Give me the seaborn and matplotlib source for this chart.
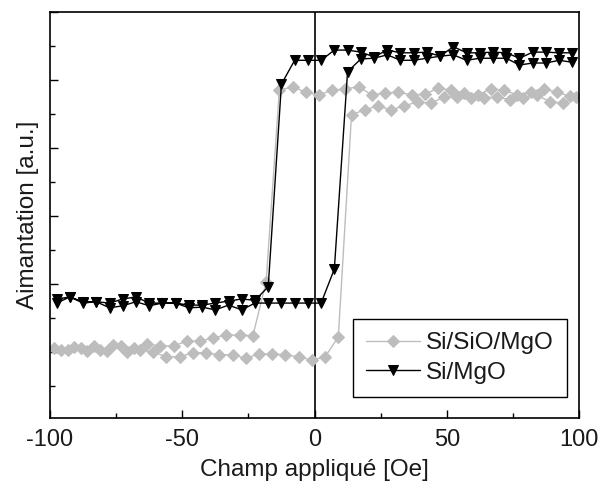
import numpy as np
import pandas as pd
import matplotlib
matplotlib.use("Agg")
import matplotlib.pyplot as plt
import seaborn as sns
from matplotlib.ticker import MultipleLocator, NullFormatter

# ---------------- data ----------------
# Si/MgO : descending branch (+ -> -) then ascending branch (- -> +)
simgo_field_desc = [97.5, 92.5, 87.5, 82.5, 77.5, 72.5, 67.5, 62.5, 57.5, 52.5,
                    47.5, 42.5, 37.5, 32.5, 27.5, 22.5, 17.5, 12.5, 7.5, 2.5,
                    -2.5, -7.5, -12.5, -17.5, -22.5, -27.5, -32.5, -37.5, -42.5, -47.5,
                    -52.5, -57.5, -62.5, -67.5, -72.5, -77.5, -82.5, -87.5, -92.5, -97.5]
simgo_mag_desc = [44.0, 44.0, 44.1, 44.1, 43.2, 44.0, 44.1, 44.0, 44.0, 44.9,
                  43.5, 44.1, 44.0, 44.0, 44.4, 43.4, 44.1, 44.4, 44.4, 42.9,
                  42.9, 42.9, 39.4, 9.6, 7.6, 7.8, 7.5, 7.2, 6.9, 6.9,
                  7.2, 7.2, 7.2, 8.1, 7.8, 7.2, 7.4, 7.4, 8.1, 7.8]
simgo_field_asc = [-97.5, -92.5, -87.5, -82.5, -77.5, -72.5, -67.5, -62.5, -57.5, -52.5,
                   -47.5, -42.5, -37.5, -32.5, -27.5, -22.5, -17.5, -12.5, -7.5, -2.5,
                   2.5, 7.5, 12.5, 17.5, 22.5, 27.5, 32.5, 37.5, 42.5, 47.5,
                   52.5, 57.5, 62.5, 67.5, 72.5, 77.5, 82.5, 87.5, 92.5, 97.5]
simgo_mag_asc = [7.2, 8.1, 7.2, 7.4, 6.5, 6.8, 7.4, 6.8, 7.2, 7.2,
                 6.5, 6.6, 6.2, 6.9, 6.2, 7.2, 7.2, 7.2, 7.2, 7.2,
                 7.2, 12.2, 41.2, 43.1, 43.2, 43.7, 42.9, 42.9, 43.2, 43.5,
                 43.7, 42.9, 43.2, 43.2, 43.2, 42.2, 42.5, 42.5, 42.9, 42.6]

# Si/SiO/MgO
sisio_field_desc = [96.7, 91.7, 86.7, 81.7, 76.7, 71.7, 66.7, 61.7, 56.7, 51.7,
                    46.7, 41.7, 36.7, 31.7, 26.7, 21.7, 16.7, 11.7, 6.7, 1.7,
                    -3.3, -8.3, -13.3, -18.3, -23.3, -28.3, -33.3, -38.3, -43.3, -48.3,
                    -53.3, -58.3, -63.3, -68.3, -73.3, -78.3, -83.3, -88.3, -93.3, -98.3]
sisio_mag_desc = [37.6, 38.2, 38.7, 38.2, 37.8, 38.5, 38.7, 37.8, 38.1, 38.5,
                  38.8, 37.9, 37.8, 38.2, 38.1, 37.8, 39.0, 38.7, 38.5, 37.8,
                  38.2, 39.0, 38.5, 10.3, 2.4, 2.5, 2.5, 2.1, 1.6, 1.6,
                  0.9, 0.9, 1.2, 0.6, 0.9, 0.1, 0.9, 0.6, 0.3, 0.6]
sisio_field_asc = [-96, -91, -86, -81, -76, -71, -66, -61, -56, -51,
                   -46, -41, -36, -31, -26, -21, -16, -11, -6, -1,
                   4, 9, 14, 19, 24, 29, 34, 39, 44, 49,
                   54, 59, 64, 69, 74, 79, 84, 89, 94, 99]
sisio_mag_asc = [0.3, 0.7, 0.1, 0.3, 1.0, 0.0, 0.3, 0.0, -0.7, -0.7,
                 -0.1, -0.1, -0.4, -0.4, -0.9, -0.3, -0.3, -0.4, -0.7, -1.2,
                 -0.7, 2.2, 34.9, 35.6, 36.2, 35.6, 36.2, 36.8, 36.6, 37.5,
                 37.5, 37.4, 37.4, 37.5, 37.1, 37.4, 37.8, 36.8, 36.6, 37.5]

labels = ["Si/SiO/MgO", "Si/MgO"]
x_ticks = [-100, -50, 0, 50, 100]
x_label = "Champ appliqué [Oe]"
y_label = "Aimantation [a.u.]"

# ---------------- figure ----------------
sns.set_style("ticks")
plt.rcParams["font.family"] = ["Liberation Sans", "DejaVu Sans"]
plt.rcParams["axes.unicode_minus"] = False
plt.rcParams["text.color"] = "#1a1a1a"
plt.rcParams["axes.labelcolor"] = "#1a1a1a"

fig = plt.figure(figsize=(6.0, 4.94), dpi=100)
ax = fig.add_axes([50 / 600, 1 - 418 / 494, 529 / 600, 406 / 494])

df_sisio = pd.DataFrame({
    "field": sisio_field_desc + sisio_field_asc,
    "mag": sisio_mag_desc + sisio_mag_asc,
})
df_simgo = pd.DataFrame({
    "field": simgo_field_desc + simgo_field_asc,
    "mag": simgo_mag_desc + simgo_mag_asc,
})

ax.axvline(0, color="black", lw=1.2, zorder=1)

sns.lineplot(data=df_sisio, x="field", y="mag", sort=False, estimator=None,
             ax=ax, color="#bdbdbd", lw=1.0, marker="D", markersize=6,
             markeredgecolor="#bdbdbd", markerfacecolor="#bdbdbd",
             label=labels[0], zorder=2)
sns.lineplot(data=df_simgo, x="field", y="mag", sort=False, estimator=None,
             ax=ax, color="black", lw=1.0, marker="v", markersize=7.5,
             markeredgecolor="black", markerfacecolor="black",
             label=labels[1], zorder=3)

ax.set_xlim(-100, 100)
ax.set_ylim(-9.7, 50.0)
ax.set_xticks(x_ticks)
ax.set_xticklabels([str(t) for t in x_ticks])
ax.xaxis.set_minor_locator(MultipleLocator(25))
ax.yaxis.set_major_locator(MultipleLocator(10))
ax.yaxis.set_minor_locator(MultipleLocator(5))
ax.yaxis.set_major_formatter(NullFormatter())
ax.tick_params(which="major", direction="in", length=6, width=1.0,
               labelsize=17, color="black", labelcolor="#1a1a1a", pad=8)
ax.tick_params(which="minor", direction="in", length=3.5, width=1.0, color="black")
for s in ax.spines.values():
    s.set_linewidth(1.2)
    s.set_color("black")
    s.set_visible(True)

ax.set_xlabel(x_label, fontsize=17.5, labelpad=6)
ax.set_ylabel(y_label, fontsize=17.5)
ax.yaxis.set_label_coords(-0.021, 0.5)

leg = ax.legend(loc="lower right", bbox_to_anchor=(0.977, 0.052), fontsize=17.5,
                frameon=True, fancybox=False, edgecolor="black", framealpha=1,
                handlelength=2.2, handletextpad=0.25, borderpad=0.55,
                labelspacing=0.3, borderaxespad=0)
leg.get_frame().set_linewidth(1.0)

fig.savefig("out.png", dpi=100)
